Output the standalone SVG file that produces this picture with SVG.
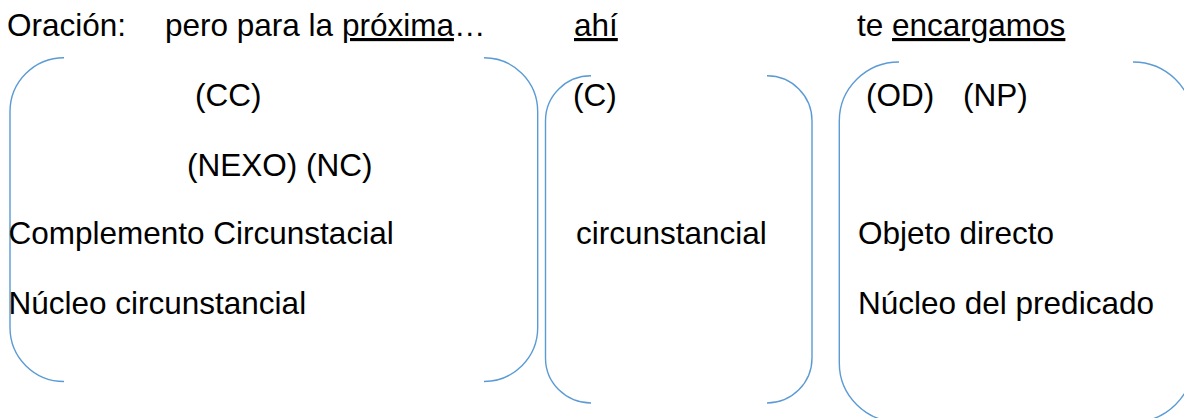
<svg xmlns="http://www.w3.org/2000/svg" width="1184" height="418" viewBox="0 0 1184 418">
  <style>
    text { font-family: "Liberation Sans", Arial, sans-serif; font-size: 31.5px; fill: #000000; }
    .u { text-decoration: underline; }
    .br { fill: none; stroke: #5B9BD5; stroke-width: 1.4; }
  </style>
  <rect width="1184" height="418" fill="#ffffff"/>

  <g id="header">
    <text x="7" y="36">Oración:</text>
    <text x="165" y="36">pero para la <tspan class="u">próxima</tspan>…</text>
    <text x="574" y="36" class="u">ahí</text>
    <text x="857" y="36">te <tspan class="u">encargamos</tspan></text>
  </g>

  <g id="connectors">
    <!-- bracket 1 -->
    <path class="br" d="M64,57.7 A54,54 0 0 0 10,111.7 V327.5 A54,54 0 0 0 64,381.5"/>
    <path class="br" d="M484,57.7 A53.7,54 0 0 1 537.7,111.7 V327.5 A53.7,54 0 0 1 484,381.5"/>
    <!-- bracket 2 -->
    <path class="br" d="M591,75.7 A45.5,45 0 0 0 545.5,120.7 V358 A45.5,45 0 0 0 591,403"/>
    <path class="br" d="M767,75.7 A45,45 0 0 1 812,120.7 V358 A45,45 0 0 1 767,403"/>
    <!-- bracket 3 -->
    <path class="br" d="M899,62 A59.7,59 0 0 0 839.3,121 V363 A59.7,59 0 0 0 899,422"/>
    <path class="br" d="M1133,62 A60,59 0 0 1 1193,121 V363 A60,59 0 0 1 1133,422"/>
  </g>

  <g id="node-cc">
    <text x="195" y="105.5">(CC)</text>
    <text x="187" y="175.5">(NEXO) (NC)</text>
    <text x="8.5" y="243.5">Complemento Circunstacial</text>
    <text x="8.5" y="313.5">Núcleo circunstancial</text>
  </g>

  <g id="node-c">
    <text x="573" y="105.5">(C)</text>
    <text x="576" y="243.5">circunstancial</text>
  </g>

  <g id="node-od">
    <text x="866" y="105.5">(OD)</text>
    <text x="963" y="105.5">(NP)</text>
    <text x="858" y="243.5">Objeto directo</text>
    <text x="858" y="313.5">Núcleo del predicado</text>
  </g>
</svg>
